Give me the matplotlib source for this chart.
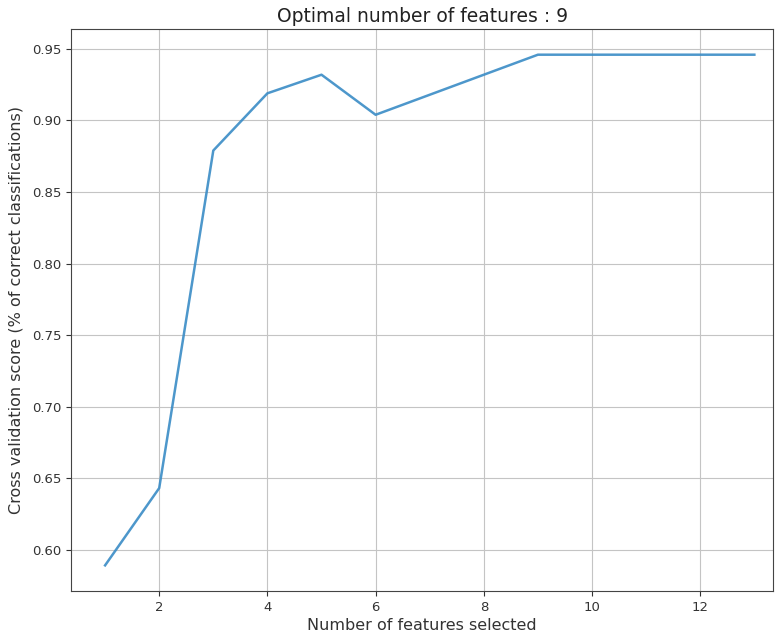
import numpy as np
import matplotlib.pyplot as plt

# cross validation score for each number of selected features
n_features = [1, 2, 3, 4, 5, 6, 7, 8, 9, 10, 11, 12, 13]
cv_scores = [0.589, 0.643, 0.879, 0.919, 0.932, 0.904, 0.918, 0.932, 0.946, 0.946, 0.946, 0.946, 0.946]
optimal = 9

fig = plt.figure(figsize=(7.76, 6.34), dpi=100)
ax = fig.add_axes([0.0915, 0.068, 0.905, 0.886])

ax.plot(n_features, cv_scores, color="#3a8cc6", linewidth=1.8, alpha=0.9)
ax.set_xlim(0.37, 13.35)
ax.grid(True, color="#c4c4c4", linewidth=0.8)
ax.set_title("Optimal number of features : %d" % optimal, fontsize=13.5, color="#222222", pad=5)
ax.set_xlabel("Number of features selected", fontsize=11.5, color="#333333", labelpad=3)
ax.set_ylabel("Cross validation score (% of correct classifications)", fontsize=11.5, color="#333333", labelpad=6)
ax.tick_params(labelsize=9.5, colors="#333333")
for s in ax.spines.values():
    s.set_color("#444444")

fig.savefig("out.png", dpi=100)
